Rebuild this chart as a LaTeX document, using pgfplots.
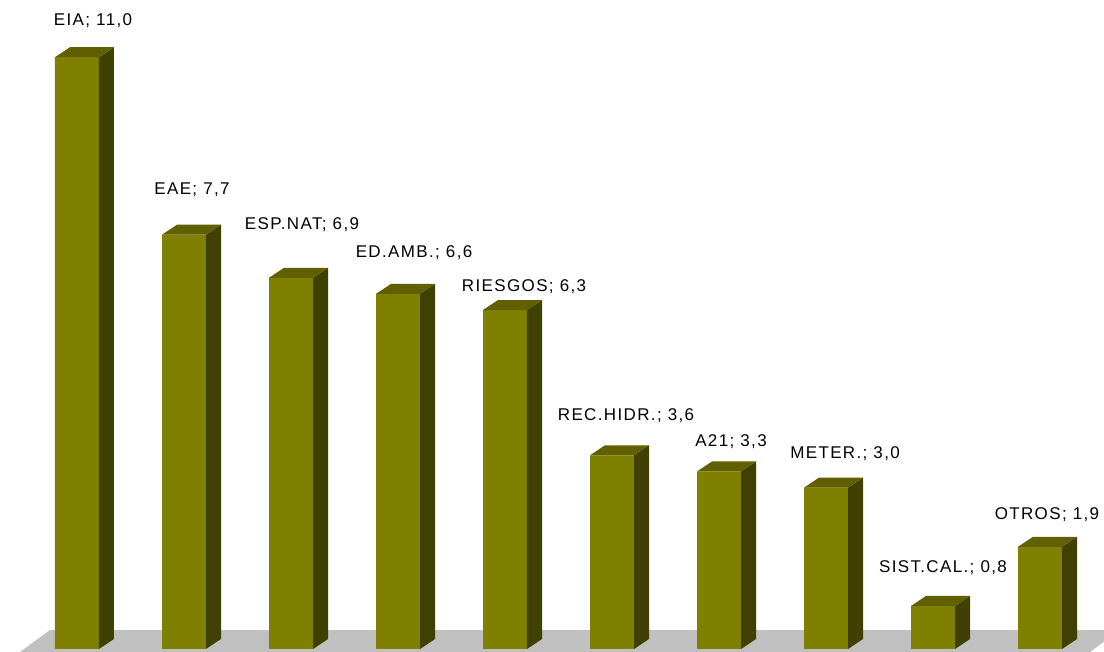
\documentclass[border=0pt]{standalone}
\usepackage{pgfplots}
\pgfplotsset{compat=1.18}
\usepackage{pgfplotstable}
\usepackage{fontspec}
\setmainfont[LetterSpace=8]{Liberation Sans}

\definecolor{frontc}{RGB}{128,128,0}
\definecolor{sidec}{RGB}{64,64,0}
\definecolor{topc}{RGB}{96,96,0}
\definecolor{floorc}{RGB}{192,192,192}

\pgfplotstableread{
x v name lx ly
0 11.0 EIA 0.150 11.580
1 7.7 EAE 1.075 8.439
2 6.9 ESP.NAT 2.103 7.788
3 6.6 ED.AMB. 3.150 7.286
4 6.3 RIESGOS 4.178 6.654
5 3.6 REC.HIDR. 5.131 4.238
6 3.3 A21 6.112 3.755
7 3.0 METER. 7.178 3.532
8 0.8 SIST.CAL. 8.093 1.413
9 1.9 OTROS 9.065 2.416
}\data

\begin{document}
\begin{tikzpicture}
\begin{axis}[
  x=107pt, y=53.8pt,
  xmin=-0.7196, xmax=9.598,
  ymin=-0.0558, ymax=12.063,
  hide axis, clip=false,
]
% floor
\addplot[fill=floorc, draw=none] coordinates {
  (-0.533,-0.0558) (-0.252,0.353) (9.598,0.353) (9.598,0.136) (9.467,-0.0558)
};
% front faces
\addplot[ybar, bar width=44pt, bar shift=0pt, fill=frontc, draw=none]
  table[x=x, y=v] {\data};
% side and top faces, labels
\pgfplotsinvokeforeach{0,...,9}{
  \pgfplotstablegetelem{#1}{v}\of\data \let\bv\pgfplotsretval
  \pgfplotstablegetelem{#1}{name}\of\data \let\bn\pgfplotsretval
  \pgfplotstablegetelem{#1}{lx}\of\data \let\blx\pgfplotsretval
  \pgfplotstablegetelem{#1}{ly}\of\data \let\bly\pgfplotsretval
  \edef\temp{%
    \noexpand\fill[sidec] ([xshift=22pt]axis cs:#1,0) -- ([xshift=37pt,yshift=10pt]axis cs:#1,0)
      -- ([xshift=37pt,yshift=10pt]axis cs:#1,\bv) -- ([xshift=22pt]axis cs:#1,\bv) -- cycle;
    \noexpand\fill[topc] ([xshift=-22pt]axis cs:#1,\bv) -- ([xshift=-7pt,yshift=10pt]axis cs:#1,\bv)
      -- ([xshift=37pt,yshift=10pt]axis cs:#1,\bv) -- ([xshift=22pt]axis cs:#1,\bv) -- cycle;
    \noexpand\node[anchor=base, inner sep=0pt, font=\noexpand\fontsize{17}{20}\noexpand\selectfont, text=black]
      at (axis cs:\blx,\bly) {\bn; \noexpand\pgfmathprintnumber[use comma,fixed,fixed zerofill,precision=1,assume math mode=true]{\bv}};
  }%
  \temp
}
\end{axis}
\pgfresetboundingbox
\path (current axis.south west) rectangle (current axis.north east);
\end{tikzpicture}
\end{document}
